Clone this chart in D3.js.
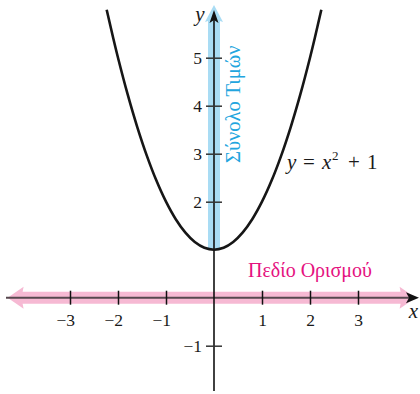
<!DOCTYPE html>
<html>
<head>
<meta charset="utf-8">
<script src="https://cdn.jsdelivr.net/npm/d3@7"></script>
<style>
  html, body { margin: 0; padding: 0; background: #fff; }
  svg { display: block; }
  svg text { font-family: 'Liberation Serif', 'DejaVu Serif', serif; }
</style>
</head>
<body>
<svg id="chart" width="420" height="394"></svg>
<script>
// ---- data ----
const xTickValues = [-3, -2, -1, 1, 2, 3];
const yTickValues = [-1, 2, 3, 4, 5];
// points of the plotted curve y = x^2 + 1 (drawn for y <= 6)
const curveX = [-2.236, -2.1, -2, -1.8, -1.6, -1.4, -1.2, -1, -0.8, -0.6, -0.4, -0.2, 0,
                 0.2, 0.4, 0.6, 0.8, 1, 1.2, 1.4, 1.6, 1.8, 2, 2.1, 2.236];
const curveY = [6, 5.41, 5, 4.24, 3.56, 2.96, 2.44, 2, 1.64, 1.36, 1.16, 1.04, 1,
                 1.04, 1.16, 1.36, 1.64, 2, 2.44, 2.96, 3.56, 4.24, 5, 5.41, 6];
const rangeBand = [1, 6.1];        // "Σύνολο Τιμών" (y from 1 upward)
const domainBand = [-4.3, 4.2];    // "Πεδίο Ορισμού" (all real x)
const equationLabel = ["y", "=", "x", "2", "+", "1"];
const rangeLabel = "Σύνολο Τιμών";
const domainLabel = "Πεδίο Ορισμού";

// ---- scales ----
const x = d3.scaleLinear().domain([-3, 3]).range([70, 358]);
const y = d3.scaleLinear().domain([-1, 5]).range([345.7, 57.7]);
const fmt = d => d < 0 ? "\u2212" + Math.abs(d) : String(d);

const svg = d3.select("#chart");

const pink = "#f6b9d3", magenta = "#e5127f", lightBlue = "#a9dcf4", blue = "#22a5de";
const serif = "'Liberation Serif', 'DejaVu Serif', serif";

// ---- domain band (pink, double arrow) ----
const by = y(0), bh = 6;
svg.append("path")
  .attr("d", () => {
    const l = x(domainBand[0]), r = x(domainBand[1]);
    return `M${l},${by} L${l+16},${by-11} L${l+15},${by-bh} L${r-15},${by-bh} L${r-16},${by-11} L${r},${by}` +
           ` L${r-16},${by+11} L${r-15},${by+bh} L${l+15},${by+bh} L${l+16},${by+11} Z`;
  })
  .attr("fill", pink);

// ---- range band (light blue, up arrow) ----
const bx = x(0), bw = 6;
svg.append("path")
  .attr("d", () => {
    const b = y(rangeBand[0]), t = y(rangeBand[1]);
    return `M${bx-bw},${b} L${bx-bw},${t+16} L${bx-9},${t+17} L${bx},${t} L${bx+9},${t+17} L${bx+bw},${t+16} L${bx+bw},${b} Z`;
  })
  .attr("fill", lightBlue);

// ---- x axis ----
svg.append("line")
  .attr("x1", 6).attr("x2", 410).attr("y1", by).attr("y2", by)
  .attr("stroke", "#56474e").attr("stroke-width", 2);
svg.append("path")
  .attr("d", `M419,${by} L406,${by-5.5} L409,${by} L406,${by+5.5} Z`)
  .attr("fill", "#111");

const xAxis = svg.append("g")
  .attr("transform", `translate(0,${by})`)
  .call(d3.axisBottom(x).tickValues(xTickValues).tickFormat(fmt).tickSize(7).tickPadding(0))
  .attr("font-family", serif).attr("font-size", 17.5);
xAxis.select(".domain").remove();
xAxis.selectAll(".tick line").attr("y1", -7).attr("y2", 7).attr("stroke", "#111").attr("stroke-width", 1.5);
xAxis.selectAll(".tick text")
  .attr("y", 28).attr("dy", null)
  .attr("fill", "#1a1a1a")
  .attr("text-anchor", d => d < 0 ? "end" : "middle")
  .attr("x", d => d < 0 ? 4.5 : 0);

// ---- y axis ----
svg.append("line")
  .attr("x1", bx).attr("x2", bx).attr("y1", 18).attr("y2", 391)
  .attr("stroke", "#111").attr("stroke-width", 1.6);
svg.append("path")
  .attr("d", `M${bx},10 L${bx-4.5},23 L${bx},20 L${bx+4.5},23 Z`)
  .attr("fill", "#111");

const yAxis = svg.append("g")
  .attr("transform", `translate(${bx},0)`)
  .call(d3.axisLeft(y).tickValues(yTickValues).tickFormat(fmt).tickSize(8).tickPadding(0))
  .attr("font-family", serif).attr("font-size", 17.5);
yAxis.select(".domain").remove();
yAxis.selectAll(".tick line").attr("x1", -8).attr("x2", 8).attr("stroke", "#333").attr("stroke-width", 1.5);
yAxis.selectAll(".tick text")
  .attr("x", -12).attr("dy", "0.35em")
  .attr("fill", "#1a1a1a")
  .attr("text-anchor", "end");

// ---- curve ----
const pts = curveX.map((v, i) => [v, curveY[i]]);
svg.append("path")
  .datum(pts)
  .attr("d", d3.line().x(d => x(d[0])).y(d => y(d[1])).curve(d3.curveCatmullRom))
  .attr("fill", "none").attr("stroke", "#161616").attr("stroke-width", 2.6);

// ---- axis labels ----
svg.append("text").attr("x", 200).attr("y", 21).attr("text-anchor", "middle")
  .attr("font-size", 21).attr("font-style", "italic").attr("fill", "#1a1a1a").text("y");
svg.append("text").attr("x", 413.5).attr("y", 318).attr("text-anchor", "middle")
  .attr("font-size", 21).attr("font-style", "italic").attr("fill", "#1a1a1a").text("x");

// ---- equation ----
const eq = svg.append("text").attr("y", 169).attr("font-size", 21).attr("fill", "#1a1a1a");
eq.append("tspan").attr("x", 287).attr("font-style", "italic").text(equationLabel[0]);
eq.append("tspan").attr("x", 303).text(equationLabel[1]);
eq.append("tspan").attr("x", 322).attr("font-style", "italic").text(equationLabel[2]);
eq.append("tspan").attr("x", 332).attr("font-size", 13).attr("dy", -9).text(equationLabel[3]);
eq.append("tspan").attr("x", 348).attr("dy", 9).text(equationLabel[4]);
eq.append("tspan").attr("x", 367).text(equationLabel[5]);

// ---- band labels ----
svg.append("text")
  .attr("transform", `translate(239.5,163) rotate(-90)`)
  .attr("font-size", 20.5).attr("fill", blue).text(rangeLabel);
svg.append("text")
  .attr("x", 248).attr("y", 277.3)
  .attr("font-size", 20).attr("fill", magenta).text(domainLabel);
</script>
</body>
</html>
